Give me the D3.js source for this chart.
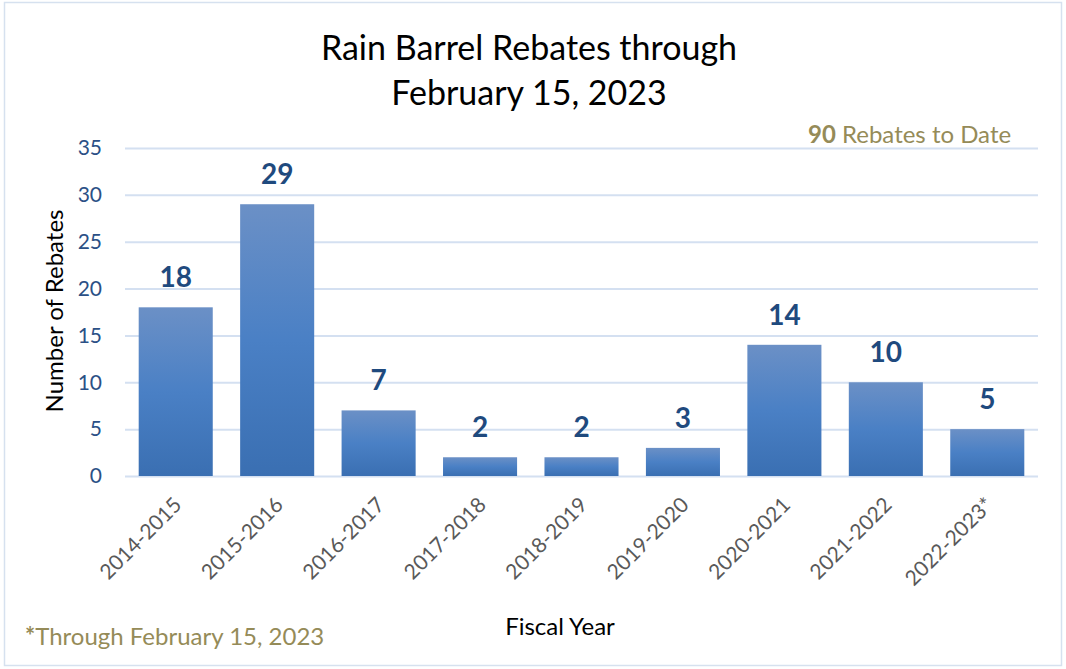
<!DOCTYPE html>
<html>
<head>
<meta charset="utf-8">
<script src="https://cdn.jsdelivr.net/npm/d3@7"></script>
<style>
  html, body { margin: 0; padding: 0; background: #fff; }
  svg { display: block; font-family: Lato, "Open Sans", sans-serif; }
</style>
</head>
<body>
<svg id="chart" width="1066" height="669"></svg>
<script>
// Fiscal years and rebate counts
const fiscalYears = ["2014-2015", "2015-2016", "2016-2017", "2017-2018", "2018-2019",
                     "2019-2020", "2020-2021", "2021-2022", "2022-2023*"];
const rebates = [18, 29, 7, 2, 2, 3, 14, 10, 5];
const yTicks = [0, 5, 10, 15, 20, 25, 30, 35];
const titleLines = ["Rain Barrel Rebates through", "February 15, 2023"];
const totalLabel = "90";

const W = 1066, H = 669;
const margin = { left: 125, right: 28, top: 148, bottom: 193 };
const svg = d3.select("#chart");

// outer frame
svg.append("rect")
  .attr("x", 4.5).attr("y", 2.5).attr("width", W - 9).attr("height", H - 6)
  .attr("fill", "#fff").attr("stroke", "#d6e1ef").attr("stroke-width", 1.5);

const x = d3.scaleBand()
  .domain(fiscalYears)
  .range([margin.left, W - margin.right])
  .paddingInner(0.27)
  .paddingOuter(0.135);

const y = d3.scaleLinear()
  .domain([0, 35])
  .range([H - margin.bottom, margin.top]);

// gradient fill for bars
const defs = svg.append("defs");
const grad = defs.append("linearGradient")
  .attr("id", "barGrad").attr("x1", 0).attr("y1", 0).attr("x2", 0).attr("y2", 1);
grad.append("stop").attr("offset", "0%").attr("stop-color", "#6b90c6");
grad.append("stop").attr("offset", "50%").attr("stop-color", "#4a80c5");
grad.append("stop").attr("offset", "100%").attr("stop-color", "#3a6fb2");

// gridlines and y tick labels
const yAxis = d3.axisLeft(y).tickValues(yTicks).tickSize(-(W - margin.right - margin.left)).tickPadding(23);
const gy = svg.append("g")
  .attr("transform", `translate(${margin.left},0)`)
  .call(yAxis);
gy.select(".domain").remove();
gy.selectAll(".tick line").attr("stroke", "#d4e0f1").attr("stroke-width", 2);
gy.selectAll(".tick text")
  .attr("fill", "#2b5086")
  .style("font-size", "21px")
  .style("font-family", "Lato, 'Open Sans', sans-serif");

// bars
svg.append("g").selectAll("rect")
  .data(rebates)
  .join("rect")
  .attr("x", (d, i) => x(fiscalYears[i]))
  .attr("y", d => y(d))
  .attr("width", x.bandwidth())
  .attr("height", d => y(0) - y(d))
  .attr("fill", "url(#barGrad)");

// value labels
svg.append("g").selectAll("text")
  .data(rebates)
  .join("text")
  .attr("x", (d, i) => x(fiscalYears[i]) + x.bandwidth() / 2)
  .attr("y", d => y(d) - 20)
  .attr("text-anchor", "middle")
  .attr("fill", "#1f4a7e")
  .style("font-size", "28px")
  .style("font-weight", "bold")
  .text(d => d);

// x axis labels, rotated
const xAxis = d3.axisBottom(x).tickSize(0).tickPadding(0);
const gx = svg.append("g")
  .attr("transform", `translate(0,${y(0)})`)
  .call(xAxis);
gx.select(".domain").remove();
gx.selectAll(".tick text")
  .attr("fill", "#595959")
  .style("font-size", "21px")
  .style("font-family", "Lato, 'Open Sans', sans-serif")
  .attr("text-anchor", "end")
  .attr("transform", "translate(2,25) rotate(-45)")
  .attr("dy", "0.35em");

// title
svg.append("g").selectAll("text")
  .data(titleLines)
  .join("text")
  .attr("x", 529)
  .attr("y", (d, i) => 60 + i * 45)
  .attr("text-anchor", "middle")
  .attr("fill", "#000")
  .style("font-size", "34px")
  .text(d => d);

// axis titles
svg.append("text")
  .attr("transform", "translate(63,311) rotate(-90)")
  .attr("text-anchor", "middle")
  .attr("fill", "#000")
  .style("font-size", "24px")
  .text("Number of Rebates");

svg.append("text")
  .attr("x", 560).attr("y", 635)
  .attr("text-anchor", "middle")
  .attr("fill", "#000")
  .style("font-size", "24px")
  .text("Fiscal Year");

// running total note
const tot = svg.append("text")
  .attr("x", 808).attr("y", 143)
  .attr("fill", "#958b58")
  .style("font-size", "24px");
tot.append("tspan").style("font-weight", "bold").text(totalLabel);
tot.append("tspan").text(" Rebates to Date");

// footnote
const fn = svg.append("text")
  .attr("x", 25).attr("y", 645)
  .attr("fill", "#958b58")
  .style("font-size", "24px");
fn.append("tspan").style("font-weight", "bold").text("*");
fn.append("tspan").text("Through February 15, 2023");
</script>
</body>
</html>
